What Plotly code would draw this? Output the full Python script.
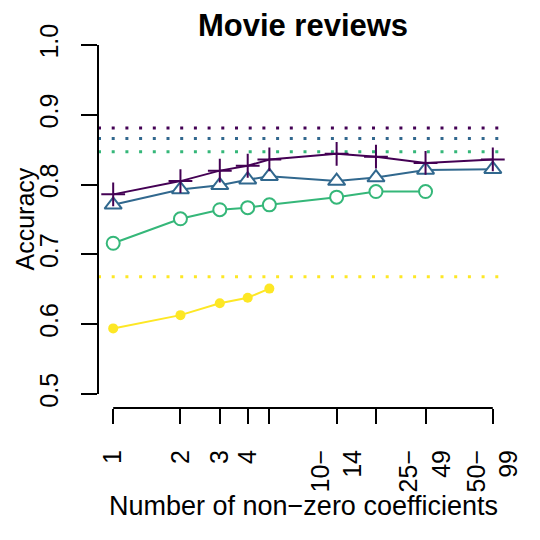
import numpy as np
import plotly.graph_objects as go

# number of non-zero coefficients (bin starts) and their axis labels
n_coef = [1, 2, 3, 4, 5, 10, 15, 25, 50]
tick_text = ["1", "2", "3", "4", "", "10\u2212<br>14", "", "25\u2212<br>49", "50\u2212<br>99"]

# accuracy per method
acc_purple = [0.786, 0.805, 0.820, 0.827, 0.836, 0.844, 0.840, 0.831, 0.836]
acc_blue = [0.771, 0.793, 0.799, 0.807, 0.812, 0.805, 0.810, 0.821, 0.822]
acc_green = [0.716, 0.751, 0.764, 0.767, 0.771, 0.782, 0.790, 0.790]
acc_yellow = [0.594, 0.613, 0.630, 0.638, 0.651]

# reference accuracies (dotted lines)
ref_acc = [0.881, 0.866, 0.847, 0.668]

y_ticks = [0.5, 0.6, 0.7, 0.8, 0.9, 1.0]

cols = ["#440154", "#31688E", "#35B779", "#FDE725"]
FONT = "Liberation Sans, Arial, sans-serif"

lx = np.log10(n_coef)

fig = go.Figure()

# dotted reference lines first (drawn under the series)
for v, c in zip(ref_acc, cols):
    fig.add_shape(type="line", xref="paper", x0=0, x1=1, yref="y", y0=v, y1=v,
                  line=dict(color=c, width=3, dash="3px,10.7px"), layer="below")

fig.add_trace(go.Scatter(
    x=lx[:len(acc_yellow)], y=acc_yellow, mode="lines+markers",
    line=dict(color=cols[3], width=2),
    marker=dict(symbol="circle", size=10, color=cols[3])))
fig.add_trace(go.Scatter(
    x=lx[:len(acc_green)], y=acc_green, mode="lines+markers",
    line=dict(color=cols[2], width=2),
    marker=dict(symbol="circle", size=13, color="white",
                line=dict(color=cols[2], width=2))))
fig.add_trace(go.Scatter(
    x=lx, y=acc_blue, mode="lines+markers",
    line=dict(color=cols[1], width=2),
    marker=dict(symbol="triangle-up", size=15, color="white",
                line=dict(color=cols[1], width=2))))
fig.add_trace(go.Scatter(
    x=lx, y=acc_purple, mode="lines+markers",
    line=dict(color=cols[0], width=2),
    marker=dict(symbol="cross-thin-open", size=17,
                line=dict(color=cols[0], width=2))))

# R-style axis lines spanning only the tick range
fig.add_shape(type="line", xref="x", yref="paper", x0=lx[0], x1=lx[-1], y0=0, y1=0,
              line=dict(color="black", width=2))
fig.add_shape(type="line", xref="paper", yref="y", x0=0, x1=0, y0=y_ticks[0], y1=y_ticks[-1],
              line=dict(color="black", width=2))

# page body has an 8px margin, so everything is placed 8px up/left
fig.update_layout(
    width=540, height=540,
    margin=dict(l=90, r=40, t=23, b=140),
    paper_bgcolor="white", plot_bgcolor="white",
    showlegend=False,
    font=dict(family=FONT, color="black"),
    title=dict(text="<b>Movie reviews</b>", x=0.5, xref="paper", y=1 - 17 / 540,
               yref="container", yanchor="middle", xanchor="center",
               font=dict(size=31, family=FONT, color="black")),
    xaxis=dict(range=[-0.068, 1.767], tickvals=lx, ticktext=tick_text,
               tickangle=-90, ticks="outside", ticklen=15, tickwidth=2,
               tickcolor="black", showgrid=False, zeroline=False, showline=False,
               tickfont=dict(size=25), ticklabelstandoff=16, automargin=False),
    yaxis=dict(range=[0.48, 1.02], tickvals=y_ticks,
               ticktext=[f"{v:.1f}" for v in y_ticks],
               tickangle=-90, ticks="outside", ticklen=16, tickwidth=2,
               tickcolor="black", showgrid=False, zeroline=False, showline=False,
               tickfont=dict(size=25), ticklabelstandoff=13, automargin=False),
)

fig.add_annotation(text="Number of non\u2212zero coefficients", xref="paper", yref="paper",
                   x=0.5, y=(408 - 506) / 377, xanchor="center", yanchor="middle",
                   showarrow=False, font=dict(size=27, family=FONT, color="black"))
fig.add_annotation(text="Accuracy", xref="paper", yref="paper", textangle=-90,
                   x=(24 - 98) / 410, y=0.5, xanchor="center", yanchor="middle",
                   showarrow=False, font=dict(size=25, family=FONT, color="black"))

fig.write_html("out.html")
